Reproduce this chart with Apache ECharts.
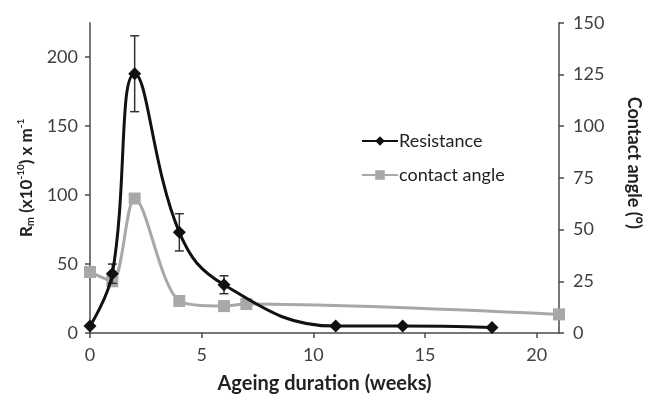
<!DOCTYPE html>
<html>
<head>
<meta charset="utf-8">
<script src="https://cdn.jsdelivr.net/npm/echarts@6/dist/echarts.min.js"></script>
<style>
html,body{margin:0;padding:0;background:#fff;}
#chart{width:651px;height:401px;}
</style>
</head>
<body>
<div id="chart"></div>
<script>
// ---- data ----
var weeksResistance = [0, 1, 2, 4, 6, 11, 14, 18];
var resistance      = [5, 43, 188, 73, 35, 5, 5, 4];
var resistanceErr   = [0, 7, 27.5, 13.5, 6.5, 0, 0, 0];
var weeksAngle      = [0, 1, 2, 4, 6, 7, 21];
var contactAngle    = [29.5, 25, 65, 15.5, 13, 14, 9];
var xTicks     = [0, 5, 10, 15, 20];
var leftTicks  = [0, 50, 100, 150, 200];

var FONT = 'Lato';
var resData = weeksResistance.map(function (w, i) { return [w, resistance[i]]; });
var angData = weeksAngle.map(function (w, i) { return [w, contactAngle[i]]; });
var errData = [];
weeksResistance.forEach(function (w, i) {
  if (resistanceErr[i] > 0) errData.push([w, resistance[i] - resistanceErr[i], resistance[i] + resistanceErr[i]]);
});

var axisColor = '#4a4a4a';
var labelColor = '#404040';

var chart = echarts.init(document.getElementById('chart'));
chart.setOption({
  animation: false,
  backgroundColor: '#fff',
  textStyle: { fontFamily: FONT },
  grid: { left: 90, right: 75, top: 22.7, bottom: 68, containLabel: false },
  legend: {
    data: ['Resistance', 'contact angle'],
    orient: 'vertical',
    left: 356, top: 127,
    itemWidth: 36, itemHeight: 12, itemGap: 16,
    textStyle: { fontFamily: FONT, fontSize: 18, color: '#222', padding: [0, 0, 0, -4] }
  },
  xAxis: {
    type: 'value', min: 0, max: 21,
    name: 'Ageing duration (weeks)', nameLocation: 'middle', nameGap: 41,
    nameTextStyle: { fontFamily: FONT, fontWeight: 'bold', fontSize: 20, color: '#222' },
    axisLine: { onZero: false, lineStyle: { color: axisColor, width: 1.5 } },
    axisTick: { show: true, length: 5, customValues: xTicks, lineStyle: { color: axisColor, width: 1.5 } },
    axisLabel: { customValues: xTicks, margin: 13, fontFamily: FONT, fontSize: 18, color: labelColor },
    splitLine: { show: false }
  },
  yAxis: [{
    type: 'value', min: 0, max: 225, position: 'left',
    name: '{b|R}{sub|m}{b| (x10}{sup|-10}{b|) x m}{sup|-1}',
    nameLocation: 'middle', nameRotate: 90, nameGap: 40,
    nameTextStyle: {
      fontFamily: FONT, fontWeight: 'bold', fontSize: 17, color: '#222',
      rich: {
        b: { fontFamily: FONT, fontWeight: 'bold', fontSize: 17, color: '#222' },
        sub: { fontFamily: FONT, fontWeight: 'bold', fontSize: 11, color: '#222', padding: [8, 0, 0, 0] },
        sup: { fontFamily: FONT, fontWeight: 'bold', fontSize: 10, color: '#222', padding: [0, 0, 11, 0] }
      }
    },
    axisLine: { show: true, lineStyle: { color: axisColor, width: 1.5 } },
    axisTick: { show: true, length: 5, customValues: leftTicks, lineStyle: { color: axisColor, width: 1.5 } },
    axisLabel: { customValues: leftTicks, margin: 12, fontFamily: FONT, fontSize: 18, color: labelColor },
    splitLine: { show: false }
  }, {
    type: 'value', min: 0, max: 150, interval: 25, position: 'right',
    name: 'Contact angle (°)', nameLocation: 'middle', nameRotate: -90, nameGap: 66,
    nameTextStyle: { fontFamily: FONT, fontWeight: 'bold', fontSize: 18, color: '#222', padding: [0, 30, 0, 0] },
    axisLine: { show: true, lineStyle: { color: axisColor, width: 1.5 } },
    axisTick: { show: true, length: 5, lineStyle: { color: axisColor, width: 1.5 } },
    axisLabel: { margin: 14, fontFamily: FONT, fontSize: 18, color: labelColor },
    splitLine: { show: false }
  }],
  series: [{
    name: 'contact angle', type: 'line', yAxisIndex: 1,
    data: angData, smooth: 0.3,
    symbol: 'rect', symbolSize: 12,
    lineStyle: { color: '#a8a8a8', width: 3 },
    itemStyle: { color: '#a8a8a8' },
    z: 2
  }, {
    name: 'errors', type: 'custom', yAxisIndex: 0,
    data: errData,
    encode: { x: 0, y: [1, 2] },
    renderItem: function (params, api) {
      var x = api.value(0);
      var lo = api.coord([x, api.value(1)]);
      var hi = api.coord([x, api.value(2)]);
      var cap = 4.5;
      var st = { stroke: '#333', lineWidth: 1.5 };
      return { type: 'group', children: [
        { type: 'line', shape: { x1: lo[0], y1: lo[1], x2: hi[0], y2: hi[1] }, style: st },
        { type: 'line', shape: { x1: lo[0] - cap, y1: lo[1], x2: lo[0] + cap, y2: lo[1] }, style: st },
        { type: 'line', shape: { x1: hi[0] - cap, y1: hi[1], x2: hi[0] + cap, y2: hi[1] }, style: st }
      ]};
    },
    z: 3
  }, {
    name: 'Resistance', type: 'line', yAxisIndex: 0,
    data: resData, smooth: 0.42,
    symbol: 'diamond', symbolSize: 13,
    lineStyle: { color: '#111', width: 3 },
    itemStyle: { color: '#111' },
    z: 4
  }]
});
</script>
</body>
</html>
